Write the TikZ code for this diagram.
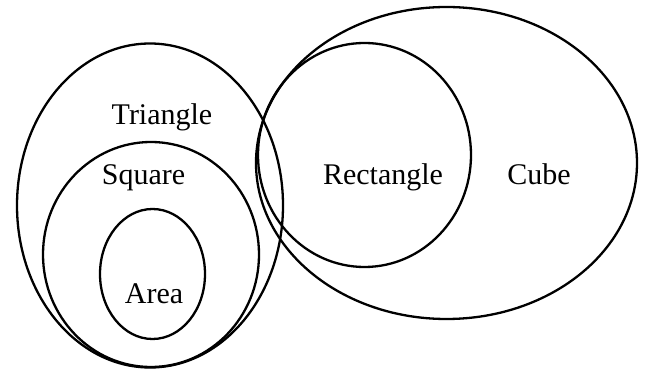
\documentclass[tikz,border=0pt]{standalone}
\usepackage{fontspec}
\setmainfont{Liberation Serif}
\usetikzlibrary{positioning}

\begin{document}
\begin{tikzpicture}[
    x=1pt, y=-1pt,
    setline/.style={draw=black, line width=2.3pt},
    lbl/.style={font=\fontsize{30}{36}\selectfont, inner sep=0pt, anchor=base, text=black}
]
\useasboundingbox[fill=white] (0,0) rectangle (648,371);
% the sets
\draw[setline] (150,205.5) ellipse [x radius=133, y radius=162];
\draw[setline] (151,254.5) ellipse [x radius=108, y radius=112.5];
\draw[setline] (152.5,274) ellipse [x radius=52.5, y radius=65];
\draw[setline] (446.5,163) ellipse [x radius=190.5, y radius=156];
\draw[setline] (364.5,155) ellipse [x radius=106.5, y radius=112];
% labels
\node[lbl] (triangle) at (162,125) {Triangle};
\node[lbl] (square) at (143.5,185) {Square};
\node[lbl] (area) at (154,304) {Area};
\node[lbl] (rectangle) at (383,185) {Rectangle};
\node[lbl] (cube) at (539,185) {Cube};
\end{tikzpicture}
\end{document}
